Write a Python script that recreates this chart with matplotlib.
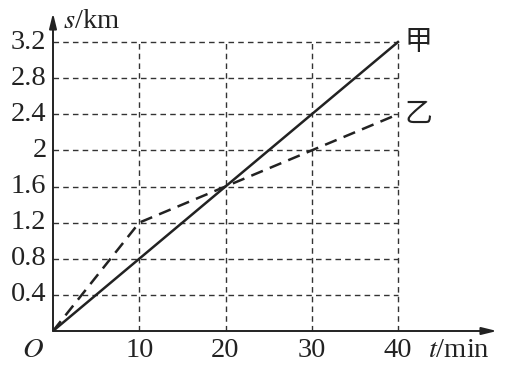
import matplotlib
matplotlib.use("Agg")
import matplotlib.pyplot as plt

plt.rcParams['font.family'] = ['Liberation Serif', 'DejaVu Serif']
plt.rcParams['mathtext.fontset'] = 'stix'

# data
t_ticks = [10, 20, 30, 40]
s_ticks = [0.4, 0.8, 1.2, 1.6, 2, 2.4, 2.8, 3.2]
s_tick_labels = ['0.4', '0.8', '1.2', '1.6', '2', '2.4', '2.8', '3.2']
jia_t = [0, 40]
jia_s = [0, 3.2]
yi_t = [0, 10, 20, 40]
yi_s = [0, 1.2, 1.6, 2.4]

W, H = 509, 367
fig = plt.figure(figsize=(W/100, H/100), dpi=100)
ax = fig.add_axes([53/W, (H-331)/H, (497-53)/W, (331-13)/H])
xmax = 40 * (497-53) / (398-53)
ymax = 3.2 * (331-13) / (331-42)
ax.set_xlim(0, xmax)
ax.set_ylim(0, ymax)
for sp in ax.spines.values():
    sp.set_visible(False)
ax.set_xticks([])
ax.set_yticks([])

lc = '#222222'
gc = '#333333'
# grid
for y in s_ticks:
    ax.plot([0, 40], [y, y], color=gc, lw=1.0, ls=(0, (4, 3)), zorder=1)
for x in t_ticks:
    ax.plot([x, x], [0, 3.2], color=gc, lw=1.0, ls=(0, (4, 3)), zorder=1)

# axes with arrows
ax.annotate('', xy=(xmax, 0), xytext=(0, 0),
            arrowprops=dict(arrowstyle='-|>,head_length=0.9,head_width=0.22', color=lc, lw=1.4, shrinkA=0, shrinkB=0),
            annotation_clip=False, zorder=3)
ax.annotate('', xy=(0, ymax), xytext=(0, 0),
            arrowprops=dict(arrowstyle='-|>,head_length=0.9,head_width=0.22', color=lc, lw=1.4, shrinkA=0, shrinkB=0),
            annotation_clip=False, zorder=3)

# lines
ax.plot(jia_t, jia_s, color=lc, lw=1.8, zorder=4)
ax.plot(yi_t, yi_s, color=lc, lw=1.8, ls=(0, (5, 3)), zorder=4)

fs = 20.5
for y, lab in zip(s_ticks, s_tick_labels):
    ax.text(-0.75, y, lab, ha='right', va='center', fontsize=fs, color=lc)
for x in t_ticks:
    ax.text(x, -0.08, str(x), ha='center', va='top', fontsize=fs, color=lc)
ax.text(-1.0, -0.08, r'$O$', ha='right', va='top', fontsize=fs, color=lc)
ax.text(43.5, -0.08, r'$t$/min', ha='left', va='top', fontsize=fs, color=lc)
ax.text(1.2, ymax + 0.04, r'$s$/km', ha='left', va='top', fontsize=fs, color=lc)

ax.text(40.7, 3.2, '甲', ha='left', va='center', fontsize=20, color=lc,
        family=['Noto Sans CJK SC', 'DejaVu Sans'])
ax.text(40.7, 2.4, '乙', ha='left', va='center', fontsize=20, color=lc,
        family=['Noto Sans CJK SC', 'DejaVu Sans'])

fig.savefig('out.png', dpi=100)
